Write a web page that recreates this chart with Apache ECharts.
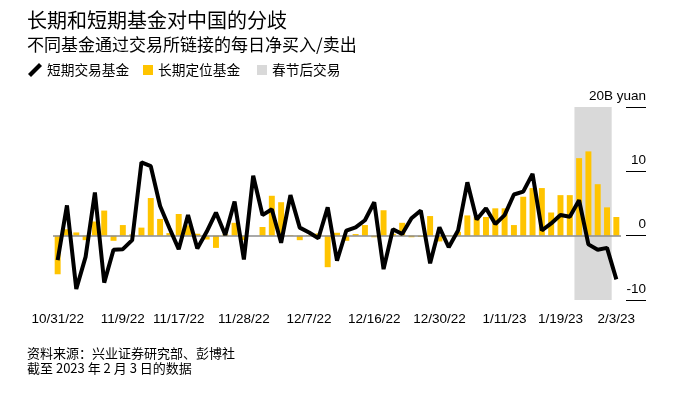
<!DOCTYPE html>
<html>
<head>
<meta charset="utf-8">
<script src="https://cdn.jsdelivr.net/npm/echarts@6/dist/echarts.min.js"></script>
<style>
  html, body { margin: 0; padding: 0; background: #fff; }
  #chart { width: 680px; height: 399px; }
</style>
</head>
<body>
<div id="chart"></div>
<script>
// 交易日 (沪深港通)
const dates = [
  '10/31/22', '11/1/22', '11/2/22', '11/3/22', '11/4/22',
  '11/7/22', '11/8/22', '11/9/22', '11/10/22', '11/11/22',
  '11/14/22', '11/15/22', '11/16/22', '11/17/22', '11/18/22',
  '11/21/22', '11/22/22', '11/23/22', '11/24/22', '11/25/22',
  '11/28/22', '11/29/22', '11/30/22', '12/1/22', '12/2/22',
  '12/5/22', '12/6/22', '12/7/22', '12/8/22', '12/9/22',
  '12/12/22', '12/13/22', '12/14/22', '12/15/22', '12/16/22',
  '12/19/22', '12/20/22', '12/21/22', '12/22/22', '12/23/22',
  '12/29/22', '12/30/22', '1/3/23', '1/4/23', '1/5/23', '1/6/23',
  '1/9/23', '1/10/23', '1/11/23', '1/12/23', '1/13/23',
  '1/16/23', '1/17/23', '1/18/23', '1/19/23', '1/20/23',
  '1/30/23', '1/31/23', '2/1/23', '2/2/23', '2/3/23'
];
const tickDates = ['10/31/22', '11/9/22', '11/17/22', '11/28/22', '12/7/22',
  '12/16/22', '12/30/22', '1/11/23', '1/19/23', '2/3/23'];
const holidayDates = ['1/30/23', '1/31/23', '2/1/23', '2/2/23'];

// 短期交易基金 (十亿元)
const shortTerm = [
  -3.8, 4.7, -8.3, -3.3, 6.7, -7.3, -2.2, -2.1, -0.7, 11.4,
  10.8, 4.6, 1.2, -2.1, 3.2, -2.0, 0.6, 3.6, 0.1, 5.3,
  -3.7, 9.3, 3.2, 4.1, -1.1, 6.3, 1.25, 0.5, -0.4, 4.4,
  -3.9, 0.8, 1.3, 2.4, 5.2, -5.2, 1.0, 0.25, 2.7, 3.9,
  -4.3, 1.3, -1.8, 0.8, 8.3, 2.5, 4.25, 1.8, 3.2, 6.4,
  6.85, 9.6, 0.8, 1.9, 3.2, 2.95, 5.5, -1.35, -2.2, -1.9,
  -6.8
];
// 长期定位基金 (十亿元)
const longTerm = [
  -6.0, 1.0, 0.5, -0.7, 2.2, 3.9, -0.8, 1.65, 0.2, 1.25,
  5.85, 2.6, 0.4, 3.37, 1.6, 0.3, -0.6, -1.9, 0.2, 2.0,
  -0.7, 0.0, 1.35, 6.2, 5.2, 0.1, -0.7, 0.1, 0.35, -4.9,
  0.45, -0.8, 0.25, 1.65, -0.25, 3.95, 0.3, 2.0, -0.25, -0.2,
  3.05, -0.9, 0.1, 0.6, 3.15, 2.9, 2.9, 4.25, 4.25, 1.65,
  6.05, 7.4, 7.4, 3.6, 6.3, 6.3, 12.05, 13.1, 8.0, 4.4,
  2.9
];

const yMin = -10, yMax = 20;
const cjk = '"Noto Sans CJK SC", sans-serif';
const latin = '"Liberation Sans", Arial, sans-serif';
const isTick = (i, v) => tickDates.includes(v);

// 春节后交易: 一整块灰色背景, 从轴底到轴顶
function renderBand(params, api) {
  const p0 = api.coord([api.value(0), yMax]);
  const p1 = api.coord([api.value(1), yMin]);
  const w = api.size([1, 0])[0];
  return {
    type: 'rect',
    shape: {x: p0[0] - w / 2, y: p0[1], width: p1[0] - p0[0] + w, height: p1[1] - p0[1]},
    style: {fill: '#d9d9d9'}
  };
}

const legendText = {fontFamily: cjk, fontSize: 13.7, color: '#000', lineHeight: 16};

const myChart = echarts.init(document.getElementById('chart'));
myChart.setOption({
  animation: false,
  title: [{
    text: '长期和短期基金对中国的分歧',
    left: 27, top: 8, padding: 0,
    textStyle: {fontFamily: cjk, fontSize: 20, fontWeight: 'normal', color: '#000', lineHeight: 24}
  }, {
    text: '不同基金通过交易所链接的每日净买入/卖出',
    left: 27, top: 35, padding: 0,
    textStyle: {fontFamily: cjk, fontSize: 17, fontWeight: 'normal', color: '#000', lineHeight: 20}
  }, {
    text: '资料来源：兴业证券研究部、彭博社\n截至 2023 年 2 月 3 日的数据',
    left: 27, top: 346, padding: 0,
    textStyle: {fontFamily: cjk, fontSize: 13, fontWeight: 'normal', color: '#000', lineHeight: 15}
  }],
  legend: [{
    left: 28, top: 62, padding: 0, itemWidth: 14, itemHeight: 14,
    data: [{name: '短期交易基金', icon: 'path://M0,11 L11,0 L14,3 L3,14 Z'}],
    textStyle: legendText
  }, {
    left: 143, top: 62, padding: 0, itemWidth: 10, itemHeight: 10,
    data: [{name: '长期定位基金', icon: 'rect'}],
    textStyle: legendText
  }, {
    left: 257, top: 62, padding: 0, itemWidth: 10, itemHeight: 10,
    data: [{name: '春节后交易', icon: 'rect'}],
    textStyle: legendText
  }],
  grid: {left: 53, right: 59, top: 107, bottom: 99},
  xAxis: {
    type: 'category',
    data: dates,
    offset: 1,
    axisLine: {show: false},
    axisTick: {alignWithLabel: true, interval: isTick, length: 5, lineStyle: {color: '#000'}},
    axisLabel: {interval: isTick, margin: 11, fontSize: 13.5, color: '#000', fontFamily: latin}
  },
  yAxis: {
    type: 'value',
    position: 'right',
    min: yMin,
    max: yMax,
    interval: 10,
    offset: 25,
    axisLine: {show: false},
    splitLine: {show: false},
    axisTick: {show: true, inside: true, length: 20, lineStyle: {color: '#000', width: 1}},
    axisLabel: {
      inside: true, margin: 0, align: 'right', verticalAlign: 'bottom',
      padding: [0, 0, 4, 0], fontSize: 13.5, color: '#000', fontFamily: latin,
      formatter: v => v === yMax ? '20B yuan' : String(v)
    }
  },
  series: [{
    name: '春节后交易', type: 'custom',
    renderItem: renderBand,
    encode: {x: [0, 1]},
    data: [[holidayDates[0], holidayDates[holidayDates.length - 1]]],
    itemStyle: {color: '#d9d9d9'}, silent: true, z: 1
  }, {
    name: '长期定位基金', type: 'bar',
    barWidth: '64%', data: longTerm, itemStyle: {color: '#ffc400'}, z: 3,
    markLine: {
      silent: true, symbol: 'none', label: {show: false},
      lineStyle: {color: '#8c8c8c', width: 1.5, type: 'solid'},
      data: [{yAxis: 0}]
    }
  }, {
    name: '短期交易基金', type: 'line', data: shortTerm,
    symbol: 'none', itemStyle: {color: '#000'},
    lineStyle: {color: '#000', width: 4}, z: 6
  }]
});
</script>
</body>
</html>
